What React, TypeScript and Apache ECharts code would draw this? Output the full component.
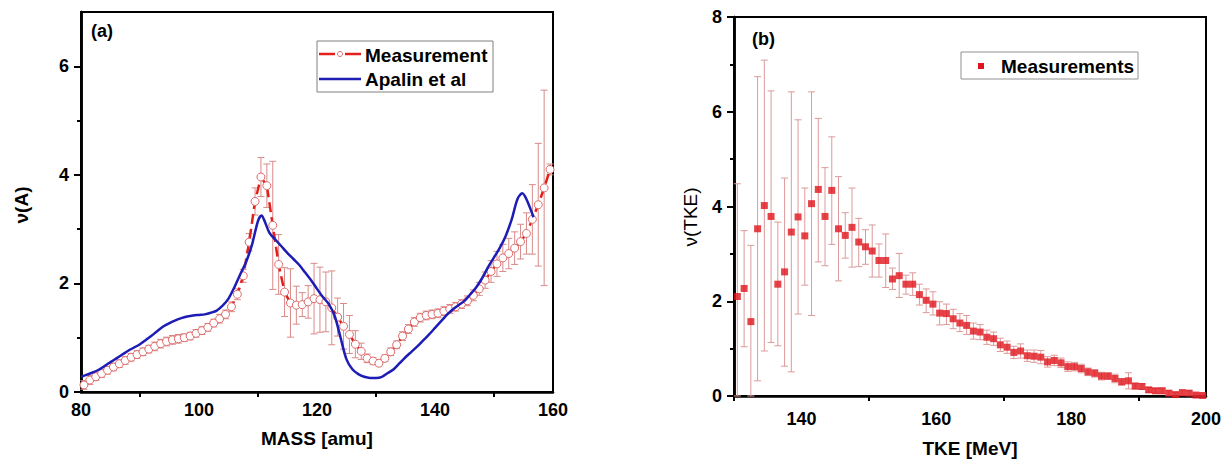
import React, { useEffect, useRef } from "react";
import * as echarts from "echarts";

// ---------- Panel (a): neutron multiplicity vs fragment mass ----------
const massX = [
  80.5, 81.5, 82.5, 83.5, 84.5, 85.5, 86.5, 87.5, 88.5, 89.5,
  90.5, 91.5, 92.5, 93.5, 94.5, 95.5, 96.5, 97.5, 98.5, 99.5,
  100.5, 101.5, 102.5, 103.5, 104.5, 105.5, 106.5, 107.5, 108.5, 109.5,
  110.5, 111.5, 112.5, 113.5, 114.5, 115.5, 116.5, 117.5, 118.5, 119.5,
  120.5, 121.5, 122.5, 123.5, 124.5, 125.5, 126.5, 127.5, 128.5, 129.5,
  130.5, 131.5, 132.5, 133.5, 134.5, 135.5, 136.5, 137.5, 138.5, 139.5,
  140.5, 141.5, 142.5, 143.5, 144.5, 145.5, 146.5, 147.5, 148.5, 149.5,
  150.5, 151.5, 152.5, 153.5, 154.5, 155.5, 156.5, 157.5, 158.5, 159.5,
];
const massV = [
  0.13, 0.22, 0.28, 0.34, 0.40, 0.46, 0.52, 0.58, 0.64, 0.69,
  0.74, 0.79, 0.84, 0.89, 0.93, 0.96, 0.98, 1.00, 1.03, 1.08,
  1.13, 1.19, 1.27, 1.35, 1.43, 1.57, 1.80, 2.14, 2.76, 3.51,
  3.96, 3.80, 3.07, 2.35, 1.84, 1.64, 1.60, 1.61, 1.66, 1.72,
  1.70, 1.66, 1.55, 1.38, 1.21, 1.06, 0.88, 0.75, 0.62, 0.57,
  0.53, 0.62, 0.74, 0.87, 1.03, 1.16, 1.29, 1.37, 1.41, 1.43,
  1.45, 1.49, 1.53, 1.57, 1.62, 1.68, 1.78, 1.90, 2.06, 2.22,
  2.36, 2.47, 2.55, 2.65, 2.77, 2.92, 3.18, 3.45, 3.76, 4.10,
];
const massErr = [
  0.08, 0.08, 0.07, 0.07, 0.07, 0.07, 0.07, 0.07, 0.07, 0.07,
  0.07, 0.07, 0.08, 0.08, 0.08, 0.08, 0.08, 0.07, 0.07, 0.07,
  0.07, 0.07, 0.07, 0.08, 0.08, 0.09, 0.10, 0.12, 0.16, 0.25,
  0.36, 0.40, 1.18, 0.55, 0.45, 0.63, 0.35, 0.22, 0.30, 0.65,
  0.60, 0.55, 0.68, 0.35, 0.42, 0.35, 0.25, 0.15, 0.08, 0.06,
  0.05, 0.06, 0.07, 0.07, 0.08, 0.08, 0.08, 0.08, 0.08, 0.08,
  0.08, 0.08, 0.08, 0.08, 0.08, 0.09, 0.10, 0.12, 0.15, 0.20,
  0.23, 0.25, 0.28, 0.30, 0.32, 0.38, 0.64, 1.13, 1.80, 0.10,
];
const apalinX = [
  80, 81, 82, 83, 84, 85, 86, 87, 88, 89, 90, 91, 92, 93, 94, 95, 96, 97, 98, 99,
  100, 101, 102, 103, 104, 105, 106, 107, 108, 109, 110, 110.6, 111, 112, 113, 114,
  115, 116, 117, 118, 119, 120, 121, 122, 123, 124, 125, 126, 127, 128, 129, 130,
  131, 132, 133, 134, 135, 136, 137, 138, 139, 140, 141, 142, 143, 144, 145, 146,
  147, 148, 149, 150, 151, 152, 153, 154, 154.8, 155.5, 156.7,
];
const apalinV = [
  0.28, 0.32, 0.36, 0.41, 0.48, 0.55, 0.62, 0.69, 0.76, 0.82, 0.88, 0.96, 1.04, 1.13, 1.21, 1.27, 1.32, 1.36, 1.39, 1.41,
  1.42, 1.43, 1.46, 1.50, 1.59, 1.72, 1.93, 2.17, 2.40, 2.72, 3.15, 3.25, 3.18, 2.92, 2.80, 2.68,
  2.56, 2.45, 2.34, 2.20, 2.06, 1.90, 1.75, 1.62, 1.40, 1.00, 0.60, 0.42, 0.33, 0.28, 0.26, 0.26,
  0.28, 0.35, 0.42, 0.53, 0.64, 0.74, 0.84, 0.95, 1.06, 1.18, 1.30, 1.42, 1.52, 1.60, 1.68, 1.80,
  1.93, 2.10, 2.30, 2.48, 2.66, 2.88, 3.18, 3.56, 3.66, 3.55, 3.22,
];
const massLabelTicks = [80, 100, 120, 140, 160];
const massMinorTicks = [90, 110, 130, 150];
const nuALabelTicks = [0, 2, 4, 6];
const nuAMinorTicks = [1, 3, 5];

// ---------- Panel (b): neutron multiplicity vs TKE ----------
const tkeX = [
  130.5, 131.5, 132.5, 133.5, 134.5, 135.5, 136.5, 137.5, 138.5, 139.5,
  140.5, 141.5, 142.5, 143.5, 144.5, 145.5, 146.5, 147.5, 148.5, 149.5,
  150.5, 151.5, 152.5, 153.5, 154.5, 155.5, 156.5, 157.5, 158.5, 159.5,
  160.5, 161.5, 162.5, 163.5, 164.5, 165.5, 166.5, 167.5, 168.5, 169.5,
  170.5, 171.5, 172.5, 173.5, 174.5, 175.5, 176.5, 177.5, 178.5, 179.5,
  180.5, 181.5, 182.5, 183.5, 184.5, 185.5, 186.5, 187.5, 188.5, 189.5,
  190.5, 191.5, 192.5, 193.5, 194.5, 195.5, 196.5, 197.5, 198.5, 199.5,
];
const tkeV = [
  2.10, 2.27, 1.57, 3.53, 4.02, 3.79, 2.36, 2.62, 3.46, 3.78,
  3.38, 4.06, 4.36, 3.79, 4.34, 3.53, 3.39, 3.56, 3.25, 3.15,
  3.06, 2.86, 2.86, 2.47, 2.54, 2.36, 2.36, 2.14, 2.02, 1.94,
  1.75, 1.74, 1.63, 1.54, 1.49, 1.37, 1.35, 1.24, 1.21, 1.08,
  1.03, 0.92, 0.95, 0.85, 0.84, 0.82, 0.72, 0.75, 0.70, 0.62,
  0.62, 0.58, 0.51, 0.48, 0.42, 0.42, 0.37, 0.30, 0.32, 0.21,
  0.20, 0.13, 0.11, 0.11, 0.06, 0.03, 0.07, 0.06, 0.02, 0.01,
];
const tkeHi = [
  4.48, 3.49, 3.18, 6.74, 7.09, 6.44, 3.67, 4.60, 6.42, 5.83,
  4.39, 6.42, 5.86, 4.82, 5.47, 4.63, 3.87, 4.39, 3.75, 3.51,
  3.61, 3.21, 3.42, 2.70, 3.01, 2.55, 2.60, 2.36, 2.26, 2.20,
  1.99, 1.94, 1.83, 1.74, 1.70, 1.54, 1.51, 1.39, 1.35, 1.22,
  1.16, 1.05, 1.10, 0.97, 0.97, 0.96, 0.83, 0.86, 0.80, 0.72,
  0.71, 0.67, 0.59, 0.56, 0.50, 0.49, 0.46, 0.37, 0.49, 0.27,
  0.26, 0.18, 0.16, 0.17, 0.11, 0.07, 0.13, 0.11, 0.06, 0.04,
];
const tkeLo = [
  0, 1.04, 0, 0.32, 0.95, 1.13, 1.06, 0.63, 0.51, 1.73,
  2.34, 1.70, 2.83, 2.75, 3.20, 2.43, 2.91, 2.72, 2.73, 2.78,
  2.51, 2.51, 2.29, 2.25, 2.08, 2.15, 2.12, 1.92, 1.76, 1.71,
  1.50, 1.51, 1.42, 1.36, 1.30, 1.20, 1.19, 1.09, 1.07, 0.94,
  0.90, 0.79, 0.80, 0.73, 0.71, 0.68, 0.61, 0.64, 0.60, 0.52,
  0.53, 0.49, 0.43, 0.40, 0.34, 0.35, 0.28, 0.23, 0.15, 0.15,
  0.14, 0.08, 0.06, 0.05, 0.01, 0, 0.01, 0.01, 0, 0,
];
const tkeLabelTicks = [140, 160, 180, 200];
const tkeMinorTicks = [130, 150, 170, 190];
const nuTLabelTicks = [0, 2, 4, 6, 8];
const nuTMinorTicks = [1, 3, 5, 7];

const FONT = "'Liberation Sans', Arial, Helvetica, sans-serif";

function errorBars(capHalf: number, color: string) {
  return (params: any, api: any) => {
    const x = api.value(0);
    const lo = api.value(1);
    const hi = api.value(2);
    const pLo = api.coord([x, lo]);
    const pHi = api.coord([x, hi]);
    const style = { stroke: color, lineWidth: 1, fill: "none" };
    return {
      type: "group",
      children: [
        { type: "line", shape: { x1: pLo[0], y1: pLo[1], x2: pHi[0], y2: pHi[1] }, style },
        { type: "line", shape: { x1: pHi[0] - capHalf, y1: pHi[1], x2: pHi[0] + capHalf, y2: pHi[1] }, style },
        { type: "line", shape: { x1: pLo[0] - capHalf, y1: pLo[1], x2: pLo[0] + capHalf, y2: pLo[1] }, style },
      ],
    };
  };
}

const labelStyle = { color: "#000", fontSize: 18, fontWeight: "bold" as const, fontFamily: FONT };
const lineStyleAxis = { color: "#000", width: 2.5 };
const tickLine = { color: "#000", width: 2 };

function txt(text: string, x: number, y: number, opts: any = {}) {
  const { align = "left", vAlign = "middle", size = 18, weight = "bold", rotation = 0 } = opts;
  return {
    type: "text",
    x,
    y,
    rotation,
    z: 100,
    style: {
      text,
      fill: "#000",
      font: `${weight} ${size}px ${FONT}`,
      align,
      verticalAlign: vAlign,
      textAlign: align,
      textVerticalAlign: vAlign,
    },
  };
}

export default function App() {
  const ref = useRef<HTMLDivElement>(null);

  useEffect(() => {
    if (!ref.current) return;
    const chart = echarts.init(ref.current, undefined, { renderer: "svg" });

    const massPts = massX.map((x, i) => [x, massV[i]]);
    const massErrPts = massX.map((x, i) => [x, Math.max(0, massV[i] - massErr[i]), massV[i] + massErr[i]]);
    const apalinPts = apalinX.map((x, i) => [x, apalinV[i]]);
    const tkePts = tkeX.map((x, i) => [x, tkeV[i]]);
    const tkeErrPts = tkeX.map((x, i) => [x, tkeLo[i], tkeHi[i]]);

    const gridA = { left: 81, top: 12, width: 472, height: 380 };
    const gridB = { left: 734, top: 17, width: 472, height: 379 };
    const gridCommon = {
      show: true,
      borderColor: "#000",
      borderWidth: 2,
      backgroundColor: "transparent",
      containLabel: false,
      outerBoundsMode: "none",
    };
    const gridGhost = { show: false, containLabel: false, outerBoundsMode: "none" };

    const ghostX = (gridIndex: number, min: number, max: number) => ({
      gridIndex,
      type: "value",
      min,
      max,
      show: false,
    });
    const minorY = (gridIndex: number, max: number, vals: number[]) => ({
      gridIndex,
      type: "value",
      position: "left",
      min: 0,
      max,
      interval: 1,
      axisLine: { show: true, onZero: false, lineStyle: { color: "#000", width: 2.5 } },
      axisTick: { show: true, customValues: vals, length: 4, lineStyle: tickLine },
      axisLabel: { show: false },
      splitLine: { show: false },
    });

    chart.setOption({
      animation: false,
      backgroundColor: "#fff",
      grid: [
        { ...gridCommon, ...gridA },
        { ...gridCommon, ...gridB },
        { ...gridGhost, ...gridA },
        { ...gridGhost, ...gridB },
      ],
      xAxis: [
        {
          gridIndex: 0,
          type: "value",
          min: 80,
          max: 160,
          interval: 10,
          axisLine: { show: true, onZero: false, lineStyle: lineStyleAxis },
          axisTick: { show: true, customValues: massMinorTicks, length: 5, lineStyle: tickLine },
          axisLabel: { ...labelStyle, customValues: massLabelTicks, margin: 9 },
          splitLine: { show: false },
        },
        {
          gridIndex: 1,
          type: "value",
          min: 130,
          max: 200,
          interval: 10,
          axisLine: { show: true, onZero: false, lineStyle: lineStyleAxis },
          axisTick: { show: true, customValues: tkeMinorTicks, length: 5, lineStyle: tickLine },
          axisLabel: { ...labelStyle, customValues: tkeLabelTicks, margin: 14 },
          splitLine: { show: false },
        },
        ghostX(2, 80, 160),
        ghostX(3, 130, 200),
      ],
      yAxis: [
        {
          gridIndex: 0,
          type: "value",
          position: "left",
          min: 0,
          max: 7,
          interval: 1,
          axisLine: { show: true, onZero: false, lineStyle: lineStyleAxis },
          axisTick: { show: true, customValues: nuALabelTicks, length: 7, lineStyle: tickLine },
          axisLabel: { ...labelStyle, customValues: nuALabelTicks, margin: 12 },
          splitLine: { show: false },
        },
        {
          gridIndex: 1,
          type: "value",
          position: "left",
          min: 0,
          max: 8,
          interval: 1,
          axisLine: { show: true, onZero: false, lineStyle: lineStyleAxis },
          axisTick: { show: true, customValues: nuTLabelTicks, length: 7, lineStyle: tickLine },
          axisLabel: { ...labelStyle, customValues: nuTLabelTicks, margin: 12 },
          splitLine: { show: false },
        },
        minorY(2, 7, nuAMinorTicks),
        minorY(3, 8, nuTMinorTicks),
      ],
      series: [
        {
          name: "MeasurementErr",
          type: "custom",
          xAxisIndex: 0,
          yAxisIndex: 0,
          renderItem: errorBars(3.5, "#d98a8a"),
          data: massErrPts,
          encode: { x: 0, y: [1, 2] },
          z: 1,
          silent: true,
        },
        {
          name: "Measurement",
          type: "line",
          xAxisIndex: 0,
          yAxisIndex: 0,
          data: massPts,
          showAllSymbol: true,
          symbol: "circle",
          symbolSize: 8,
          lineStyle: { color: "#e3201b", width: 2.5, type: [10, 5] },
          itemStyle: { color: "#ffffff", borderColor: "#df6a6a", borderWidth: 1 },
          z: 2,
        },
        {
          name: "Apalin et al",
          type: "line",
          xAxisIndex: 0,
          yAxisIndex: 0,
          data: apalinPts,
          symbol: "none",
          smooth: 0.3,
          lineStyle: { color: "#1d1db5", width: 2.5 },
          z: 3,
        },
        {
          name: "MeasurementsErr",
          type: "custom",
          xAxisIndex: 1,
          yAxisIndex: 1,
          renderItem: errorBars(3.5, "#dc9a9a"),
          data: tkeErrPts,
          encode: { x: 0, y: [1, 2] },
          z: 1,
          silent: true,
        },
        {
          name: "Measurements",
          type: "scatter",
          xAxisIndex: 1,
          yAxisIndex: 1,
          data: tkePts,
          symbol: "rect",
          symbolSize: 7,
          itemStyle: { color: "#e0141c" },
          z: 2,
        },
      ],
      graphic: [
        // panel labels
        txt("(a)", 91, 31),
        txt("(b)", 752, 39),
        // axis titles
        txt("MASS [amu]", 317, 438, { align: "center", size: 19 }),
        txt("\u03BD(A)", 21, 205, { align: "center", size: 19, rotation: Math.PI / 2 }),
        txt("TKE [MeV]", 970, 448, { align: "center", size: 19 }),
        txt("\u03BD(TKE)", 690, 217, { align: "center", size: 19, weight: "normal", rotation: Math.PI / 2 }),
        // legend (a)
        {
          type: "rect",
          z: 90,
          shape: { x: 317, y: 41, width: 176, height: 51 },
          style: { fill: "#fff", stroke: "#808080", lineWidth: 1 },
        },
        { type: "line", z: 95, shape: { x1: 319, y1: 54, x2: 335, y2: 54 }, style: { stroke: "#e3201b", lineWidth: 2.5 } },
        { type: "line", z: 95, shape: { x1: 345, y1: 54, x2: 361, y2: 54 }, style: { stroke: "#e3201b", lineWidth: 2.5 } },
        { type: "circle", z: 96, shape: { cx: 340, cy: 54, r: 2.5 }, style: { fill: "#fff", stroke: "#df6a6a", lineWidth: 1 } },
        { type: "line", z: 95, shape: { x1: 319, y1: 79, x2: 361, y2: 79 }, style: { stroke: "#1d1db5", lineWidth: 2.5 } },
        txt("Measurement", 365, 55, { size: 19 }),
        txt("Apalin et al", 365, 79, { size: 19 }),
        // legend (b)
        {
          type: "rect",
          z: 90,
          shape: { x: 961, y: 52, width: 177, height: 27 },
          style: { fill: "#fff", stroke: "#909090", lineWidth: 1 },
        },
        { type: "rect", z: 95, shape: { x: 978, y: 63, width: 6, height: 6 }, style: { fill: "#e0141c" } },
        txt("Measurements", 1001, 66, { size: 19 }),
      ],
    });

    return () => {
      chart.dispose();
    };
  }, []);

  return (
    <div
      ref={ref}
      style={{ position: "fixed", left: 0, top: 0, width: 1226, height: 464, background: "#fff" }}
    />
  );
}
